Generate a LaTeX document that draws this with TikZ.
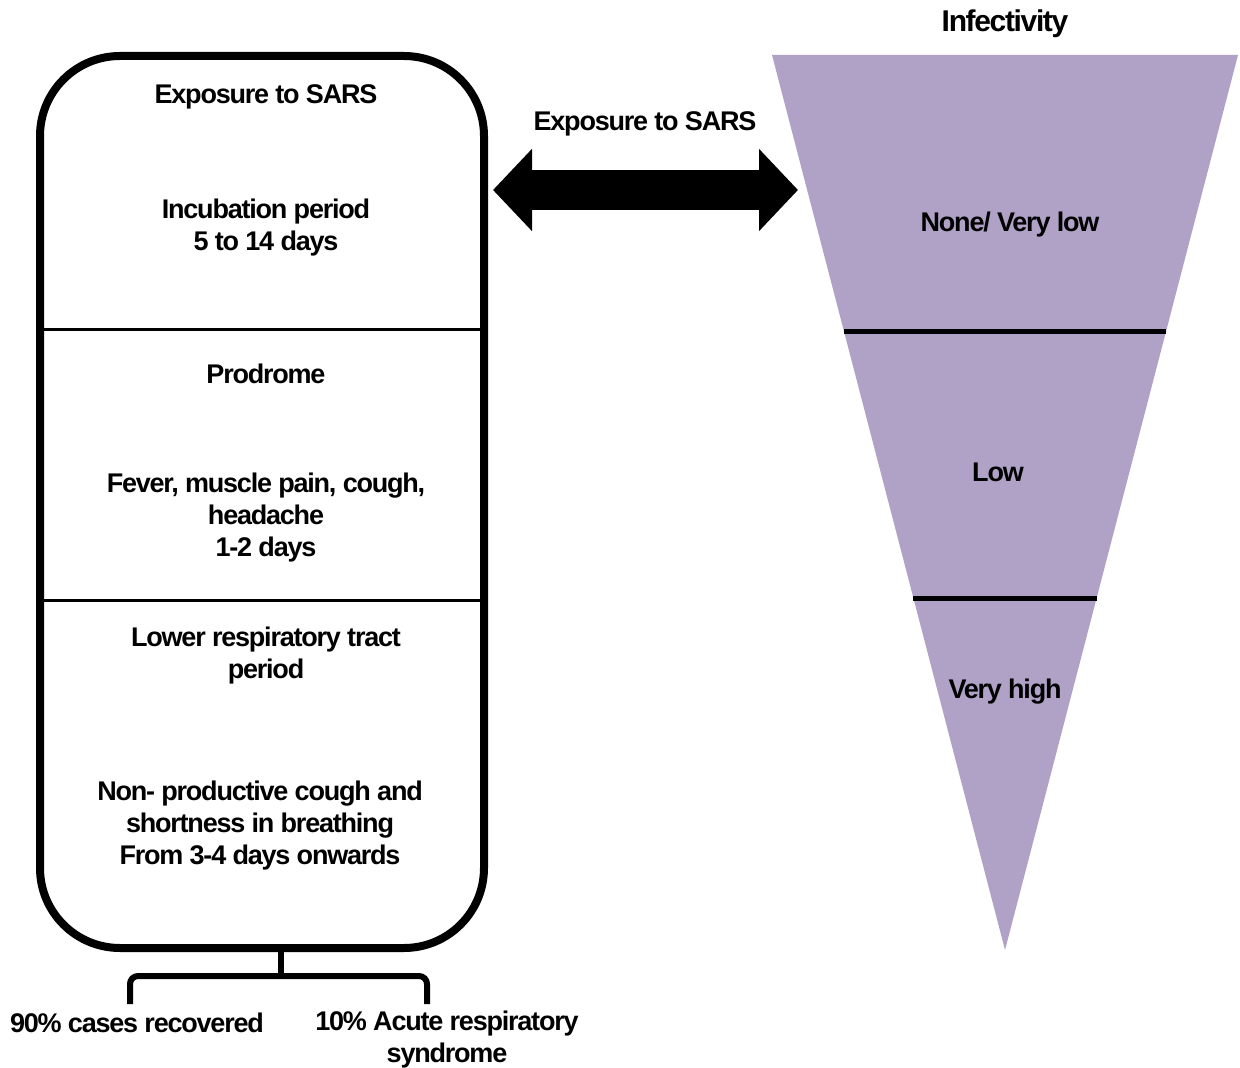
\documentclass[tikz,border=0pt]{standalone}
\usepackage{fontspec}
\setmainfont{Liberation Sans}[LetterSpace=-4.5]
\usetikzlibrary{calc,arrows.meta}
\definecolor{lilac}{RGB}{176,162,199}
\begin{document}
\begin{tikzpicture}[x=0.5pt,y=-0.5pt,
  txt/.style={font=\fontsize{13.5pt}{16pt}\selectfont\bfseries, align=center, inner sep=0pt},
  heavy/.style={line width=4pt},
  divider/.style={line width=1.5pt},
  band/.style={line width=2.5pt}]
\useasboundingbox (0,0) rectangle (1240,1068);

% stage box
\node[heavy, draw, rounded corners=40pt, minimum width=222pt, minimum height=446pt, inner sep=0pt]
  (box) at (262,502) {};
\draw[divider] (box.west |- 0,330) coordinate (d1l) -- (box.east |- 0,330) coordinate (d1r);
\draw[divider] (box.west |- 0,600) coordinate (d2l) -- (box.east |- 0,600) coordinate (d2r);

\node[txt] (exp1) at (266,97) {Exposure to SARS};
\node[txt] (inc) at (266,228) {Incubation period\\5 to 14 days};
\node[txt] (pro) at (266,374) {Prodrome};
\node[txt] (fev) at (266,518) {Fever, muscle pain, cough,\\headache\\1-2 days};
\node[txt] (lrt) at (266,656) {Lower respiratory tract\\period};
\node[txt] (npc) at (260,826) {Non- productive cough and\\shortness in breathing\\From 3-4 days onwards};

% outcome bracket
\coordinate (split) at (281,976);
\draw[line width=3pt] (box.south -| split) -- (split);
\draw[line width=3pt, rounded corners=4pt] (130,1004) -- (130,976) -- (427,976) -- (427,1004);
\node[txt] (rec) at (137,1023) {90\% cases recovered};
\node[txt] (ards) at (447,1040) {10\% Acute respiratory\\syndrome};

% infectivity funnel
\coordinate (tl) at (772,55);
\coordinate (tr) at (1238,55);
\coordinate (apex) at (1005,950);
\fill[lilac] (tl) -- (tr) -- (apex) -- cycle;
\draw[band] ($(tl)!0.309!(apex)$) -- ($(tr)!0.309!(apex)$);
\draw[band] ($(tl)!0.607!(apex)$) -- ($(tr)!0.607!(apex)$);
\node[txt, font=\fontsize{15pt}{18pt}\selectfont\bfseries] (inf) at (1005,24) {Infectivity};
\node[txt] (vlow) at (1010,225) {None/ Very low};
\node[txt] (low) at (998,472) {Low};
\node[txt] (vhigh) at (1005,692) {Very high};

% exposure link
\coordinate (al) at (493,190);
\coordinate (ar) at (798,190);
\draw[line width=20pt, {Triangle[length=19.5pt,width=40pt]}-{Triangle[length=19.5pt,width=40pt]}] (al) -- (ar);
\node[txt] (exp2) at (645,124) {Exposure to SARS};
\end{tikzpicture}
\end{document}
